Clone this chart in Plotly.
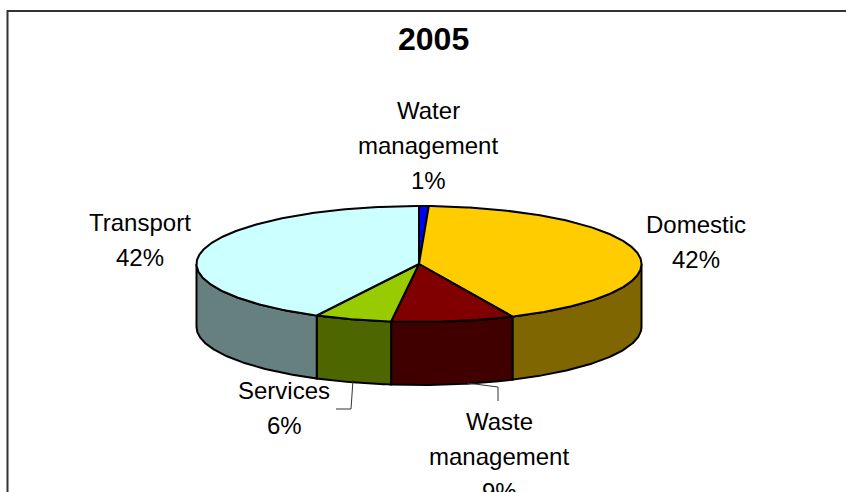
import numpy as np
import plotly.graph_objects as go

title = "2005"
categories = ["Water management", "Domestic", "Waste management", "Services", "Transport"]
shares = [0.7, 42.4, 8.9, 5.6, 42.4]
top_colors = ["#0000FF", "#FFCC00", "#800000", "#99CC00", "#CCFFFF"]
side_colors = ["#000080", "#806600", "#400000", "#4D6600", "#668080"]
label_lines = [["Water", "management"], ["Domestic"], ["Waste", "management"], ["Services"], ["Transport"]]
label_centers = [(428, 110), (696, 224), (499, 421), (284, 390), (139.5, 222)]

CX, CY, RX, RY, DEPTH = 419.0, 264.0, 222.5, 58.0, 63.0
FONT = "Liberation Sans, Arial, sans-serif"
LINE_STEP = 35.0


def rim(a0, a1, dy=0.0):
    n = max(2, int(abs(a1 - a0) * 1.5) + 2)
    t = np.radians(np.linspace(a0, a1, n))
    return CX + RX * np.sin(t), CY - RY * np.cos(t) + dy


edges = np.concatenate([[0], np.cumsum(shares)]) * 3.6
fig = go.Figure()


def poly(xs, ys, color):
    fig.add_trace(go.Scatter(x=xs, y=ys, mode="lines", fill="toself", fillcolor=color,
                             line=dict(color="black", width=2), hoverinfo="skip", showlegend=False))


# Front wall of the disc (only the part of the rim facing the viewer)
for i in range(len(shares)):
    a0, a1 = max(edges[i], 90), min(edges[i + 1], 270)
    if a1 <= a0:
        continue
    x0, y0 = rim(a0, a1)
    x1, y1 = rim(a1, a0, DEPTH)
    poly(np.r_[x0, x1, x0[0]], np.r_[y0, y1, y0[0]], side_colors[i])

# Top surface
for i in range(len(shares)):
    x0, y0 = rim(edges[i], edges[i + 1])
    poly(np.r_[CX, x0, CX], np.r_[CY, y0, CY], top_colors[i])

annotations = [dict(x=433.5, y=39, xref="x", yref="y", text=f"<b>{title}</b>", showarrow=False,
                    font=dict(family=FONT, size=32, color="black"))]
for lines, share, (lx, ly) in zip(label_lines, shares, label_centers):
    for k, txt in enumerate(lines + [f"{round(share)}%"]):
        annotations.append(dict(x=lx, y=ly + k * LINE_STEP, xref="x", yref="y", text=txt, showarrow=False,
                                font=dict(family=FONT, size=24, color="black")))

leader = dict(color="#333333", width=1)
shapes = [
    dict(type="rect", xref="x", yref="y", x0=7.5, y0=11, x1=900, y1=560,
         line=dict(color="#333333", width=2), layer="below"),
    dict(type="path", xref="x", yref="y", path="M336,409 L351,409 L353,380", line=leader),
    dict(type="path", xref="x", yref="y", path="M467,383 L498,387 L498,401", line=leader),
]

fig.update_layout(
    width=846, height=492, autosize=False,
    margin=dict(l=0, r=0, t=0, b=0),
    paper_bgcolor="white", plot_bgcolor="white",
    xaxis=dict(range=[0, 846], visible=False, domain=[0, 1]),
    yaxis=dict(range=[492, 0], visible=False, domain=[0, 1]),
    annotations=annotations, shapes=shapes,
)
fig.write_html("out.html", config={"displayModeBar": False},
               post_script="document.body.style.margin='0';document.body.style.overflow='hidden';")
